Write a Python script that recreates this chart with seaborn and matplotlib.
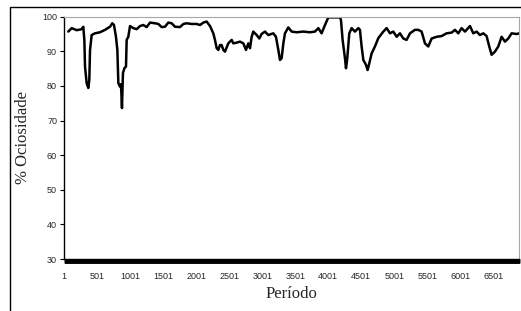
import matplotlib
matplotlib.use("Agg")
import matplotlib.pyplot as plt
from matplotlib.patches import Rectangle
from matplotlib.ticker import FixedLocator, MultipleLocator
import pandas as pd
import seaborn as sns


# values
periodo = [
    62, 113, 189, 264, 289, 305, 315, 340, 365, 380, 391, 416, 466, 542, 618,
    694, 729, 754, 784, 805, 820, 845, 860, 875, 890, 911, 936, 946, 971, 997,
    1047, 1098, 1148, 1199, 1249, 1300, 1375, 1426, 1476, 1527, 1577, 1628,
    1678, 1754, 1805, 1855, 1931, 2007, 2057, 2108, 2158, 2209, 2259, 2284,
    2310, 2335, 2360, 2385, 2411, 2436, 2486, 2537, 2562, 2613, 2663, 2714,
    2754, 2789, 2815, 2840, 2865, 2916, 2956, 2990, 3042, 3092, 3168, 3208,
    3244, 3269, 3294, 3320, 3345, 3395, 3446, 3522, 3623, 3724, 3799, 3850,
    3900, 3951, 4001, 4052, 4178, 4193, 4218, 4254, 4269, 4289, 4319, 4355,
    4405, 4456, 4481, 4506, 4532, 4572, 4597, 4622, 4658, 4708, 4759, 4835,
    4885, 4936, 4986, 5037, 5087, 5138, 5188, 5239, 5314, 5365, 5415, 5466,
    5516, 5567, 5643, 5718, 5794, 5870, 5920, 5971, 6021, 6072, 6148, 6198,
    6249, 6299, 6350, 6400, 6440, 6476, 6526, 6577, 6627, 6678, 6728, 6779,
    6854, 6895,
]
ociosidade = [
    95.7, 96.7, 96.1, 96.4, 97.1, 93.3, 85.6, 80.8, 79.4, 81.8, 90.4, 94.7,
    95.2, 95.5, 96.2, 97.1, 98.1, 97.6, 94.2, 90.4, 80.8, 79.8, 80.5, 73.6,
    83.7, 85.1, 85.6, 93.3, 94.2, 97.3, 96.7, 96.4, 97.3, 97.6, 97.0, 98.3,
    98.1, 97.9, 97.0, 97.1, 98.3, 98.1, 97.1, 97.0, 97.9, 98.1, 97.9, 97.9,
    97.6, 98.3, 98.6, 97.3, 95.2, 93.3, 90.9, 90.4, 91.8, 91.8, 90.4, 89.9,
    92.3, 93.3, 92.3, 92.5, 92.8, 92.3, 90.4, 92.3, 90.9, 94.2, 95.7, 94.7,
    93.7, 95.0, 95.7, 94.7, 95.2, 94.2, 90.4, 87.5, 88.0, 92.3, 95.2, 96.9,
    95.7, 95.5, 95.7, 95.5, 95.7, 96.7, 95.2, 97.6, 99.8, 99.8, 99.8, 99.1,
    93.3, 88.0, 85.1, 88.0, 95.2, 96.7, 95.7, 96.7, 96.2, 91.4, 87.5, 86.1,
    84.6, 86.5, 89.4, 91.4, 93.8, 95.7, 96.7, 95.2, 95.7, 94.2, 95.2, 93.7,
    93.3, 95.2, 96.2, 96.2, 95.7, 92.3, 91.4, 93.7, 94.2, 94.4, 95.2, 95.4,
    96.2, 95.2, 96.7, 95.7, 97.3, 95.2, 95.7, 94.7, 95.2, 94.4, 91.4, 89.0,
    89.9, 91.4, 94.2, 92.8, 93.7, 95.2, 95.0, 95.2,
]
x_ticks = [1, 501, 1001, 1501, 2001, 2501, 3001, 3501, 4001, 4501, 5001,
           5501, 6001, 6501]
y_ticks = [30, 40, 50, 60, 70, 80, 90, 100]

df = pd.DataFrame({"Periodo": periodo, "Ociosidade": ociosidade})

sns.set_theme(style="white")
plt.rcParams["font.family"] = ["Liberation Sans", "DejaVu Sans"]

fig = plt.figure(figsize=(5.21, 3.11), dpi=100)
ax = fig.add_axes([0.1234, 0.1672, 0.8733, 0.7791])

sns.lineplot(data=df, x="Periodo", y="Ociosidade", ax=ax, color="black",
             linewidth=1.8)

ax.set_xlim(1, 6895)
ax.set_ylim(30, 100)
ax.xaxis.set_major_locator(FixedLocator(x_ticks))
ax.set_xticklabels([str(t) for t in x_ticks])
ax.xaxis.set_minor_locator(MultipleLocator(5))
ax.yaxis.set_major_locator(FixedLocator(y_ticks))

ax.tick_params(axis="x", which="major", length=3.2, width=1, color="black",
               labelsize=6.5, pad=6, direction="out")
ax.tick_params(axis="x", which="minor", length=3.2, width=1, color="black",
               direction="out", bottom=True)
ax.tick_params(axis="y", length=3.2, width=0.8, color="black", labelsize=6.5,
               pad=2, direction="out", left=True)

for side in ["top", "right"]:
    ax.spines[side].set_color("#a6a6a6")
    ax.spines[side].set_linewidth(0.8)
for side in ["left", "bottom"]:
    ax.spines[side].set_color("black")
    ax.spines[side].set_linewidth(1)

ax.set_xlabel("Período", family=["Liberation Serif", "DejaVu Serif"],
              fontsize=12, labelpad=4)
ax.set_ylabel("% Ociosidade", family=["Liberation Serif", "DejaVu Serif"],
              fontsize=12, labelpad=8)

fig.patches.append(Rectangle((10 / 521, -0.1), 1.2, 1.0775,
                             transform=fig.transFigure, fill=False,
                             edgecolor="black", linewidth=1))

fig.savefig("out.png", dpi=100)
